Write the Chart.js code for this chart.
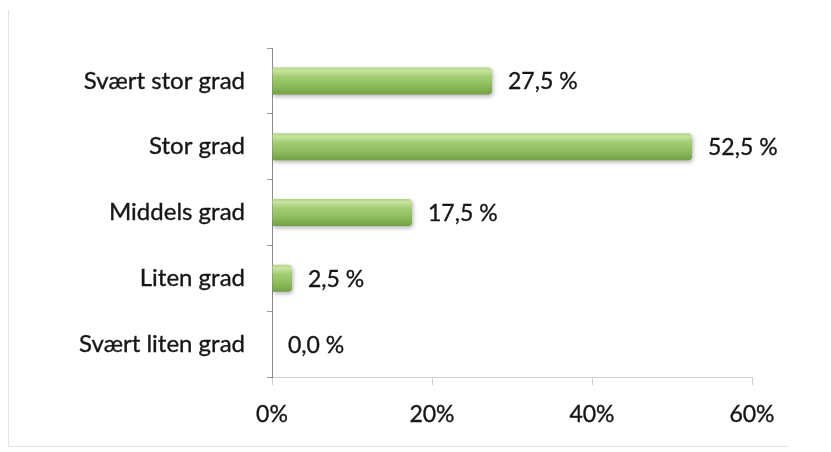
<!DOCTYPE html>
<html>
<head>
<meta charset="utf-8">
<script src="https://cdn.jsdelivr.net/npm/chart.js@4.4.1/dist/chart.umd.min.js"></script>
<style>
  html, body { margin: 0; padding: 0; background: #fff; }
  #wrap { position: relative; width: 831px; height: 452px; }
  #frame { position: absolute; left: 8px; top: 10px; width: 780px; height: 436px;
           border-left: 1px solid #e2e2e2; border-bottom: 1px solid #e6e6dc; }
  canvas { position: absolute; left: 0; top: 0; }
</style>
</head>
<body>
<div id="wrap">
  <div id="frame"></div>
  <canvas id="c" width="831" height="452"></canvas>
</div>
<script>
// Andel svar per kategori (prosent)
const categories = ['Svært stor grad', 'Stor grad', 'Middels grad', 'Liten grad', 'Svært liten grad'];
const shares = [27.5, 52.5, 17.5, 2.5, 0.0];
const xTicks = [0, 20, 40, 60];

const FONT = "Lato, 'Open Sans', sans-serif";
const INK = '#161616';
const WEIGHT = 0.35; // thin outline that gives the text a slightly heavier stroke

// Norwegian number format: "27,5 %"
const fmt = v => v.toFixed(1).replace('.', ',') + ' %';

// Give each bar its own vertical green gradient plus a soft drop shadow
const barStyle = {
  id: 'barStyle',
  beforeDatasetsDraw(chart) {
    const ctx = chart.ctx;
    const meta = chart.getDatasetMeta(0);
    meta.data.forEach(bar => {
      const top = bar.y - bar.height / 2;
      const bottom = bar.y + bar.height / 2;
      const g = ctx.createLinearGradient(0, top, 0, bottom);
      g.addColorStop(0, '#b3d487');
      g.addColorStop(0.12, '#c8e3a0');
      g.addColorStop(0.35, '#a2cc73');
      g.addColorStop(0.7, '#8cbb5b');
      g.addColorStop(1, '#739f45');
      bar.options = Object.assign({}, bar.options, { backgroundColor: g });
    });
    ctx.save();
    ctx.shadowColor = 'rgba(0,0,0,0.3)';
    ctx.shadowBlur = 4;
    ctx.shadowOffsetX = 1;
    ctx.shadowOffsetY = 2;
  },
  afterDatasetsDraw(chart) {
    chart.ctx.restore();
  }
};

// Value labels to the right of each bar
const valueLabels = {
  id: 'valueLabels',
  afterDatasetsDraw(chart) {
    const ctx = chart.ctx;
    const meta = chart.getDatasetMeta(0);
    ctx.save();
    ctx.font = '23px ' + FONT;
    ctx.fillStyle = INK;
    ctx.strokeStyle = INK;
    ctx.lineWidth = WEIGHT;
    ctx.textAlign = 'left';
    ctx.textBaseline = 'middle';
    meta.data.forEach((bar, i) => {
      const t = fmt(shares[i]);
      ctx.fillText(t, bar.x + 16, bar.y + 1);
      ctx.strokeText(t, bar.x + 16, bar.y + 1);
    });
    ctx.restore();
  }
};

new Chart(document.getElementById('c'), {
  type: 'bar',
  data: {
    labels: categories,
    datasets: [{
      data: shares,
      backgroundColor: '#9cc566',
      borderWidth: 0,
      borderRadius: { topRight: 4, bottomRight: 4 },
      borderSkipped: 'start',
      categoryPercentage: 1,
      barPercentage: 0.41
    }]
  },
  options: {
    indexAxis: 'y',
    responsive: false,
    animation: false,
    devicePixelRatio: 1,
    layout: { padding: { left: 0, right: 79, top: 48, bottom: 14 } },
    plugins: { legend: { display: false }, tooltip: { enabled: false } },
    scales: {
      x: {
        min: 0, max: 60,
        afterBuildTicks: s => { s.ticks = xTicks.map(v => ({ value: v })); },
        afterFit: s => { s.height = 452 - 377 - 14; },
        grid: { display: true, drawOnChartArea: false, drawTicks: true, tickLength: 8, color: '#cfcfcf' },
        border: { display: true, color: '#cfcfcf', width: 1 },
        ticks: { callback: v => v + '%', font: { family: FONT, size: 23 }, color: INK,
                 textStrokeColor: INK, textStrokeWidth: WEIGHT, padding: 16, maxRotation: 0 }
      },
      y: {
        afterFit: s => { s.width = 272; },
        grid: { display: true, drawOnChartArea: false, drawTicks: true, tickLength: 5, color: '#9a9a9a', offset: true },
        border: { display: true, color: '#8a8a8a', width: 1 },
        ticks: { font: { family: FONT, size: 24 }, color: INK,
                 textStrokeColor: INK, textStrokeWidth: WEIGHT, padding: 22 }
      }
    }
  },
  plugins: [barStyle, valueLabels]
});
</script>
</body>
</html>
